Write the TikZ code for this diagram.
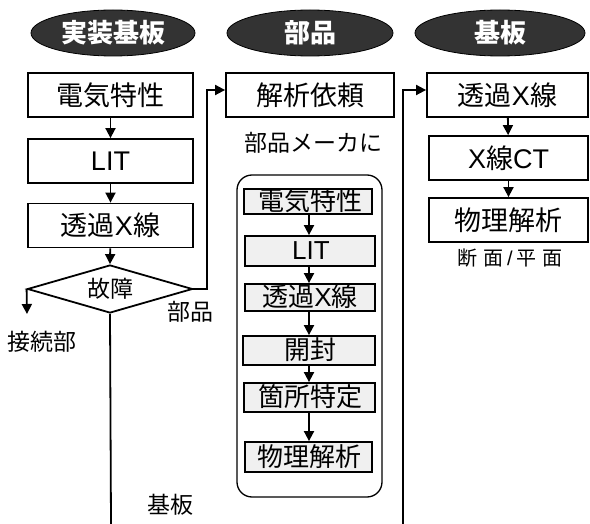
\documentclass[tikz,border=0pt]{standalone}
\usepackage{fontspec}
\setmainfont{Liberation Sans}
\newfontfamily\jp{Noto Sans CJK JP}
\usetikzlibrary{shapes.geometric,arrows.meta}
\begin{document}
\begin{tikzpicture}[x=1pt,y=-1pt,
 hdr/.style={ellipse, fill=black!80, draw=black, line width=0.8pt, text=white, font=\jp\bfseries\fontsize{26}{28}\selectfont, inner sep=0pt, minimum height=46pt},
 box/.style={draw, line width=1.8pt, minimum height=44pt, inner sep=0pt, font=\fontsize{27}{29}\selectfont},
 ibox/.style={draw, line width=1.8pt, fill=black!6, inner sep=0pt},
 itxt/.style={inner sep=0pt, font=\fontsize{26}{28}\selectfont},
 lbl/.style={inner sep=0pt, font=\jp\fontsize{23}{25}\selectfont},
 arr/.style={line width=1.8pt, -{Triangle[length=10pt,width=10pt]}},
 ln/.style={line width=1.8pt},
]
\useasboundingbox (0,0) rectangle (590,524);

% headers
\node[hdr, minimum width=164pt] (h1) at (113,33) {実装基板};
\node[hdr, minimum width=166pt] (h2) at (310,33) {部品};
\node[hdr, minimum width=170pt] (h3) at (500,33) {基板};

% left column
\node[box, minimum width=165pt] (a1) at (110.5,95) {\jp 電気特性};
\node[box, minimum width=165pt] (a2) at (110.5,161) {LIT};
\node[box, minimum width=165pt] (a3) at (110.5,225.5) {{\jp 透過}X{\jp 線}};
\node[diamond, draw, line width=1.8pt, inner sep=0pt, minimum width=165pt, minimum height=48pt] (d) at (110,289) {};
\node[lbl] (dt) at (d) {故障};
\draw[arr] (a1) -- (a2);
\draw[arr] (a2) -- (a3);
\draw[arr] (a3) -- (d.north);
\coordinate (k) at (27,314);
\draw[arr] (d.west) -- (k);
\node[lbl] (kt) at (42,342) {接続部};
\node[lbl] (pt) at (190,312) {部品};
\coordinate (bend1) at (207,289);
\coordinate (bend2) at (207,90);
\node[box, minimum width=168pt] (b1) at (310,95) {\jp 解析依頼};
\draw[arr] (d.east) -- (bend1) -- (bend2) -- ([yshift=5pt]b1.west);
\coordinate (dbot) at (111,524);
\draw[ln] (d.south) -- (dbot);
\node[lbl] (st) at (170,505) {基板};

% middle column
\node[lbl] (mk) at (313,143) {部品メーカに};
\node[draw, line width=1.3pt, rounded corners=15pt, minimum width=145pt, minimum height=322pt] (cont) at (309.5,336) {};
\node[ibox, minimum width=128pt, minimum height=25pt] (i1) at (308,201.5) {};
\node[ibox, minimum width=130pt, minimum height=30pt] (i2) at (310,251) {};
\node[ibox, minimum width=130pt, minimum height=27pt] (i3) at (310,297.5) {};
\node[ibox, minimum width=132pt, minimum height=29pt] (i4) at (309,350.5) {};
\node[ibox, minimum width=131pt, minimum height=29pt] (i5) at (309.5,397.5) {};
\node[ibox, minimum width=127pt, minimum height=30pt] (i6) at (308.5,457) {};
\node[itxt] at (310,201) {\jp 電気特性};
\node[itxt] at (311,251) {LIT};
\node[itxt] at (310,297) {{\jp 透過}X{\jp 線}};
\node[itxt] at (310,350) {\jp 開封};
\node[itxt] at (310,397) {\jp 箇所特定};
\node[itxt] at (309,457) {\jp 物理解析};
\coordinate (cx) at (309,0);
\draw[arr] (i1.south -| cx) -- (i2.north -| cx);
\draw[arr] (i2.south -| cx) -- (i3.north -| cx);
\draw[arr] (i3.south -| cx) -- (i4.north -| cx);
\draw[arr] (i4.south -| cx) -- (i5.north -| cx);
\draw[arr] (i5.south -| cx) -- (i6.north -| cx);

% right column
\node[box, minimum width=161pt] (c1) at (507.5,95) {{\jp 透過}X{\jp 線}};
\node[box, minimum width=159pt] (c2) at (508.5,158) {X{\jp 線}CT};
\node[box, minimum width=159pt] (c3) at (508.5,220) {\jp 物理解析};
\draw[arr] (c1) -- (c2);
\draw[arr] (c2) -- (c3);
\node[inner sep=0pt, font=\fontsize{20}{22}\selectfont] (sm) at (510,258) {{\jp 断}\,\,{\jp 面}\,/\,{\jp 平}\,\,{\jp 面}};
\coordinate (e) at (403,524);
\coordinate (bend3) at (403,90);
\draw[arr] (e) -- (bend3) -- ([yshift=5pt]c1.west);
\end{tikzpicture}
\end{document}
